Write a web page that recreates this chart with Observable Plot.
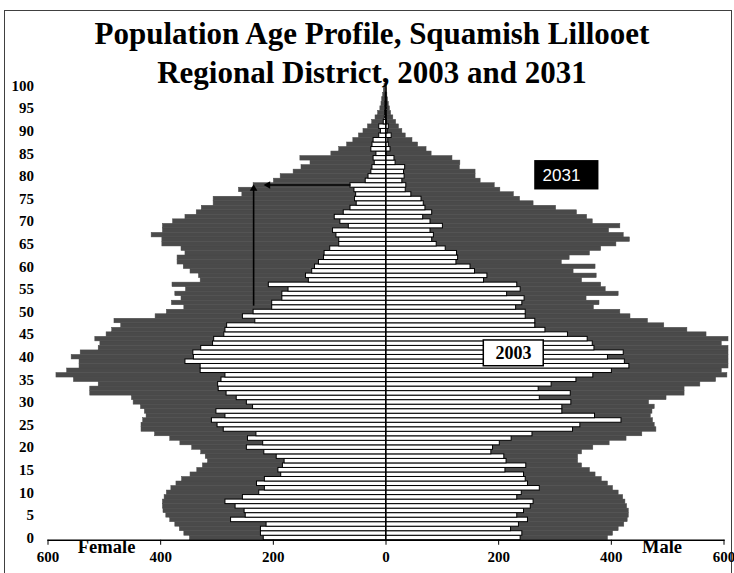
<!DOCTYPE html>
<html><head><meta charset="utf-8">
<script src="https://cdn.jsdelivr.net/npm/d3@7"></script>
<script src="https://cdn.jsdelivr.net/npm/@observablehq/plot@0.6"></script>
<style>
body{margin:0;background:#fff;}
#wrap{position:relative;width:734px;height:573px;overflow:hidden;font-family:"Liberation Serif",serif;background:#fff;}
#border{position:absolute;left:4px;top:10px;width:728px;height:620px;border:1.5px solid #404040;border-bottom:none;box-sizing:border-box;}
.t{position:absolute;left:0;width:744px;text-align:center;font-weight:bold;font-size:31px;line-height:1;white-space:nowrap;color:#000;}
#t1{top:18px;}
#t2{top:57px;}
#chart{position:absolute;left:0;top:0;}
</style></head><body>
<div id="wrap"><div id="border"></div><div id="chart"></div>
<div class="t" id="t1">Population Age Profile, Squamish Lillooet</div>
<div class="t" id="t2">Regional District, 2003 and 2031</div>
</div>
<script>
const ages = d3.range(0, 101);
const female2003 = [217,222,222,212,275,249,251,267,285,254,
 225,215,229,215,186,191,183,180,194,216,
 247,218,245,230,288,299,309,285,301,236,
 247,265,283,297,298,292,285,329,329,356,
 341,342,328,307,305,287,285,282,232,254,
 235,202,202,184,184,173,208,137,142,131,
 126,119,110,109,99,83,83,88,94,66,
 81,91,75,63,52,55,53,56,63,36,
 31,26,24,20,22,17,26,24,22,12,
 9,12,4,2,1.5,1,1,0.5,0.5,0,
 0];
const female2031 = [348,358,366,374,383,390,395,396,396,393,
 389,381,372,362,347,335,325,316,320,328,
 344,365,383,410,434,434,431,425,428,435,
 448,451,525,525,510,554,585,566,544,544,
 558,542,510,507,516,496,486,470,482,409,
 389,358,380,363,374,355,379,329,332,347,
 359,370,370,356,363,397,397,416,396,396,
 378,356,336,327,306,306,255,261,235,199,
 187,164,150,134,152,97,83,69,58,48,
 40,32,24.5,18.6,14,10,8,6.8,5,3.9,
 2.7];
const male2003 = [239,242,222,236,252,233,245,257,262,233,
 241,273,252,248,245,212,249,214,210,187,
 190,202,223,260,332,345,418,371,313,313,
 329,273,328,271,294,338,368,401,432,424,
 394,422,370,367,358,323,283,265,265,248,
 248,231,242,246,215,239,233,174,180,158,
 150,125,128,126,106,90,82,85,79,101,
 79,66,82,70,67,63,45,35,36,29,
 33,32,34,17,15,1,8,5,4,10,
 3,5,1.5,1,1,2,2,0.5,0.5,0,
 0];
const male2031 = [394,403,413,423,429,431,431,428,425,421,
 413,403,394,383,372,362,348,341,341,348,
 368,397,427,455,480,477,474,470,473,477,
 467,498,530,530,558,586,606,596,608,608,
 608,608,608,596,608,569,535,494,465,434,
 416,369,379,356,413,390,382,348,374,333,
 372,312,326,362,382,409,433,422,396,416,
 367,357,339,302,262,238,227,203,193,168,
 159,159,131,132,118,81,72,57,47,35,
 29,23,18,13,9,7,5,3.6,2.4,1.5,
 1];
const xTicks = [-600, -400, -200, 0, 200, 400, 600];
const yTicks = d3.range(0, 101, 5);
const sexLabels = ["Female", "Male"];
const yearLabels = ["2031", "2003"];

const rows = ages.map((a, i) => ({age: a, f03: female2003[i], f31: female2031[i], m03: male2003[i], m31: male2031[i]}));
const band = {y1: d => d.age - 0.5, y2: d => d.age + 0.5};
const dark = "#4a4a4a";

const plot = Plot.plot({
  width: 734, height: 573,
  marginLeft: 47.5, marginRight: 10.5, marginTop: 83.24, marginBottom: 33.24,
  x: {domain: [-600, 600]},
  y: {domain: [-0.5, 100.5]},
  style: {background: "transparent", fontFamily: "Liberation Serif", color: "#000"},
  marks: [
    Plot.rect(rows, {...band, x1: 0, x2: d => -d.f31, fill: dark, stroke: dark, strokeWidth: 0.5}),
    Plot.rect(rows, {...band, x1: 0, x2: d => d.m31, fill: dark, stroke: dark, strokeWidth: 0.5}),
    Plot.rect(rows, {...band, x1: 0, x2: d => -d.f03, fill: "#fff", stroke: "#000", strokeWidth: 1}),
    Plot.rect(rows, {...band, x1: 0, x2: d => d.m03, fill: "#fff", stroke: "#000", strokeWidth: 1}),
    Plot.ruleX([0], {stroke: "#000", strokeWidth: 1.3}),
    Plot.frame({anchor: "bottom", stroke: "#000", strokeWidth: 1.3}),
    Plot.axisX({ticks: xTicks, tickFormat: d => Math.abs(d), tickSize: 5, tickPadding: 6, fontSize: 15, fontWeight: "bold", label: null}),
    Plot.axisY({ticks: yTicks, tickSize: 0, tickPadding: 14, fontSize: 15, fontWeight: "bold", label: null}),
    Plot.text([sexLabels[0]], {x: -496, y: -2.1, fontSize: 18.5, fontWeight: "bold", fill: "#000"}),
    Plot.text([sexLabels[1]], {x: 490, y: -2.1, fontSize: 18.5, fontWeight: "bold", fill: "#000"}),
    // arrows
    Plot.link([0], {x1: -235, x2: -235, y1: 51.4, y2: 77.3, stroke: "#000", strokeWidth: 1.6}),
    Plot.dot([0], {x: -235, y: 77.3, symbol: "triangle", r: 2.8, fill: "#000", stroke: "none"}),
    Plot.link([0], {x1: -63, x2: -209, y1: 78.1, y2: 78.1, stroke: "#000", strokeWidth: 1.6}),
    Plot.dot([0], {x: -209.5, y: 78.1, symbol: "triangle", r: 2.8, rotate: -90, fill: "#000", stroke: "none"}),
    // 2031 label
    Plot.rect([0], {x1: 264, x2: 378, y1: 77.0, y2: 83.5, fill: "#000"}),
    Plot.text([yearLabels[0]], {x: 278, y: 80.2, textAnchor: "start", fill: "#fff", fontFamily: "Liberation Sans", fontSize: 17, fontWeight: "normal"}),
    // 2003 label
    Plot.rect([0], {x1: 173.6, x2: 280, y1: 38.0, y2: 43.7, fill: "#fff", stroke: "#000", strokeWidth: 1.5}),
    Plot.text([yearLabels[1]], {x: 226.5, y: 40.9, fill: "#000", fontSize: 18, fontWeight: "bold"})
  ]
});
document.getElementById("chart").appendChild(plot);
</script>
</body></html>
